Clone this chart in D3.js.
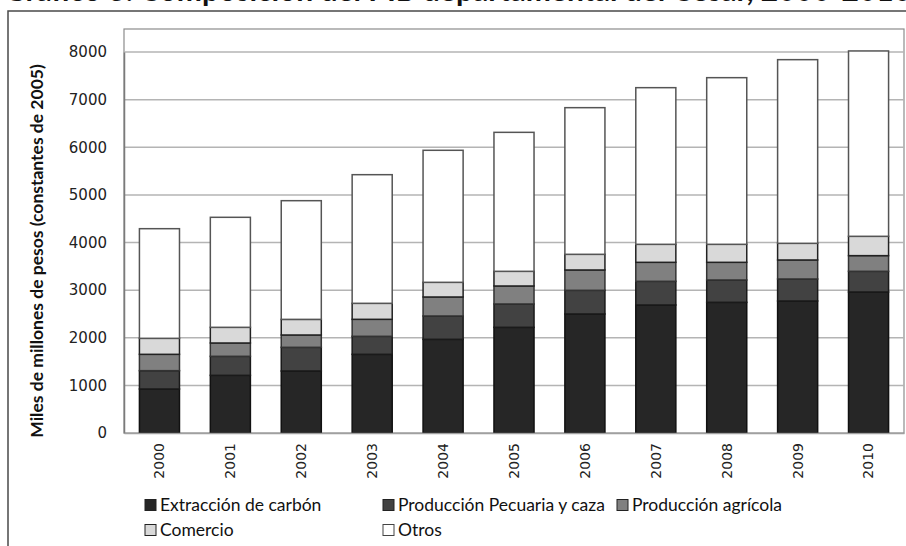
<!DOCTYPE html>
<html>
<head>
<meta charset="utf-8">
<script src="https://cdn.jsdelivr.net/npm/d3@7"></script>
<style>
  html, body { margin: 0; padding: 0; background: #fff; }
  svg { display: block; }
</style>
</head>
<body>
<svg id="chart" width="906" height="546"></svg>
<script>
// Años del periodo
const years = ["2000","2001","2002","2003","2004","2005","2006","2007","2008","2009","2010"];

// Valor por rama (miles de millones de pesos constantes de 2005)
const carbon   = [924, 1211, 1302, 1652, 1967, 2219, 2499, 2688, 2744, 2772, 2961];
const pecuaria = [385,  399,  497,  378,  490,  490,  497,  497,  469,  462,  434];
const agricola = [343,  280,  259,  357,  399,  378,  427,  399,  371,  399,  329];
const comercio = [336,  329,  328,  336,  308,  308,  329,  378,  378,  350,  406];
const otros    = [2302, 2310, 2492, 2701, 2772, 2918, 3079, 3289, 3499, 3856, 3892];

const seriesNames = ["Extracción de carbón", "Producción Pecuaria y caza", "Producción agrícola", "Comercio", "Otros"];
const seriesValues = [carbon, pecuaria, agricola, comercio, otros];
const seriesFill = ["#262626", "#424242", "#808080", "#d9d9d9", "#ffffff"];
const seriesStroke = ["#111111", "#1a1a1a", "#333333", "#222222", "#555555"];

const yTicks = [0, 1000, 2000, 3000, 4000, 5000, 6000, 7000, 8000];

const titleText = "Gráfico 3. Composición del PIB departamental del Cesar, 2000-2010";
const yTitle = "Miles de millones de pesos (constantes de 2005)";

const svg = d3.select("#chart");

// Layout
const plot = { left: 124, right: 904, top: 29, bottom: 433 };

// Title running off the top edge of the page
svg.append("text")
  .attr("x", 4).attr("y", 0.5)
  .attr("font-family", "Lato, 'Open Sans', sans-serif")
  .attr("font-weight", "bold")
  .attr("font-size", 30)
  .attr("fill", "#111")
  .text(titleText);

// Outer chart frame
svg.append("rect")
  .attr("x", 8).attr("y", 11)
  .attr("width", 1000).attr("height", 600)
  .attr("fill", "none")
  .attr("stroke", "#4a4a4a")
  .attr("stroke-width", 1.5);

// Rows of the table for d3.stack
const rows = years.map((yr, i) => {
  const r = { year: yr };
  seriesNames.forEach((n, k) => { r[n] = seriesValues[k][i]; });
  return r;
});
const stacked = d3.stack().keys(seriesNames)(rows);

const x = d3.scaleBand()
  .domain(years)
  .range([plot.left, plot.right])
  .paddingInner(0.435)
  .paddingOuter(0.2175);

const y = d3.scaleLinear()
  .domain([0, 8000])
  .range([plot.bottom, 52]);

// Plot area border
svg.append("rect")
  .attr("x", plot.left).attr("y", plot.top)
  .attr("width", plot.right - plot.left)
  .attr("height", plot.bottom - plot.top)
  .attr("fill", "#fff")
  .attr("stroke", "#8c8c8c")
  .attr("stroke-width", 1.2);

// Horizontal gridlines
svg.append("g")
  .selectAll("line")
  .data(yTicks.filter(d => d > 0))
  .join("line")
  .attr("x1", plot.left).attr("x2", plot.right)
  .attr("y1", d => y(d)).attr("y2", d => y(d))
  .attr("stroke", "#b4b4b4")
  .attr("stroke-width", 1.5);

// Y axis labels
const yAxis = d3.axisLeft(y).tickValues(yTicks).tickSize(0).tickPadding(17).tickFormat(d3.format("d"));
const gy = svg.append("g").attr("transform", `translate(${plot.left},0)`).call(yAxis);
gy.select(".domain").attr("stroke", "#7a7a7a").attr("stroke-width", 1.5);
gy.selectAll("text")
  .attr("font-family", "'DejaVu Sans', Verdana, sans-serif")
  .attr("font-size", 15)
  .attr("fill", "#222");

// Stacked bars
svg.append("g")
  .selectAll("g")
  .data(stacked)
  .join("g")
  .attr("fill", (d, i) => seriesFill[i])
  .attr("stroke", (d, i) => seriesStroke[i])
  .attr("stroke-width", 1.5)
  .selectAll("rect")
  .data(d => d)
  .join("rect")
  .attr("x", d => x(d.data.year))
  .attr("width", x.bandwidth())
  .attr("y", d => y(d[1]))
  .attr("height", d => y(d[0]) - y(d[1]));

// X axis
const xAxis = d3.axisBottom(x).tickSize(0).tickPadding(0);
const gx = svg.append("g").attr("transform", `translate(0,${plot.bottom})`).call(xAxis);
gx.select(".domain").attr("stroke", "#a0a0a0").attr("stroke-width", 1.5);
gx.selectAll("text")
  .attr("font-family", "'DejaVu Sans', Verdana, sans-serif")
  .attr("font-size", 14)
  .attr("fill", "#222")
  .attr("transform", "rotate(-90)")
  .attr("text-anchor", "end")
  .attr("dy", "0.35em")
  .attr("x", -10)
  .attr("y", 0);

// Y axis title
svg.append("text")
  .attr("transform", `translate(43,${(plot.top + plot.bottom) / 2 + 20}) rotate(-90)`)
  .attr("text-anchor", "middle")
  .attr("font-family", "Lato, 'Open Sans', sans-serif")
  .attr("font-weight", "bold")
  .attr("font-size", 17.5)
  .attr("fill", "#111")
  .text(yTitle);

// Legend
const legendPos = [
  { x: 145, y: 505 }, { x: 383, y: 505 }, { x: 617, y: 505 },
  { x: 145, y: 530 }, { x: 383, y: 530 }
];
const lg = svg.append("g")
  .selectAll("g")
  .data(seriesNames)
  .join("g")
  .attr("transform", (d, i) => `translate(${legendPos[i].x},${legendPos[i].y})`);
lg.append("rect")
  .attr("x", 0).attr("y", -5.5)
  .attr("width", 11).attr("height", 11)
  .attr("fill", (d, i) => seriesFill[i])
  .attr("stroke", (d, i) => i === 4 ? "#444" : "#222")
  .attr("stroke-width", 1);
lg.append("text")
  .attr("x", 15).attr("y", 0)
  .attr("dy", "0.35em")
  .attr("font-family", "Lato, 'Open Sans', sans-serif")
  .attr("font-size", 17.5)
  .attr("fill", "#111")
  .text(d => d);
</script>
</body>
</html>
